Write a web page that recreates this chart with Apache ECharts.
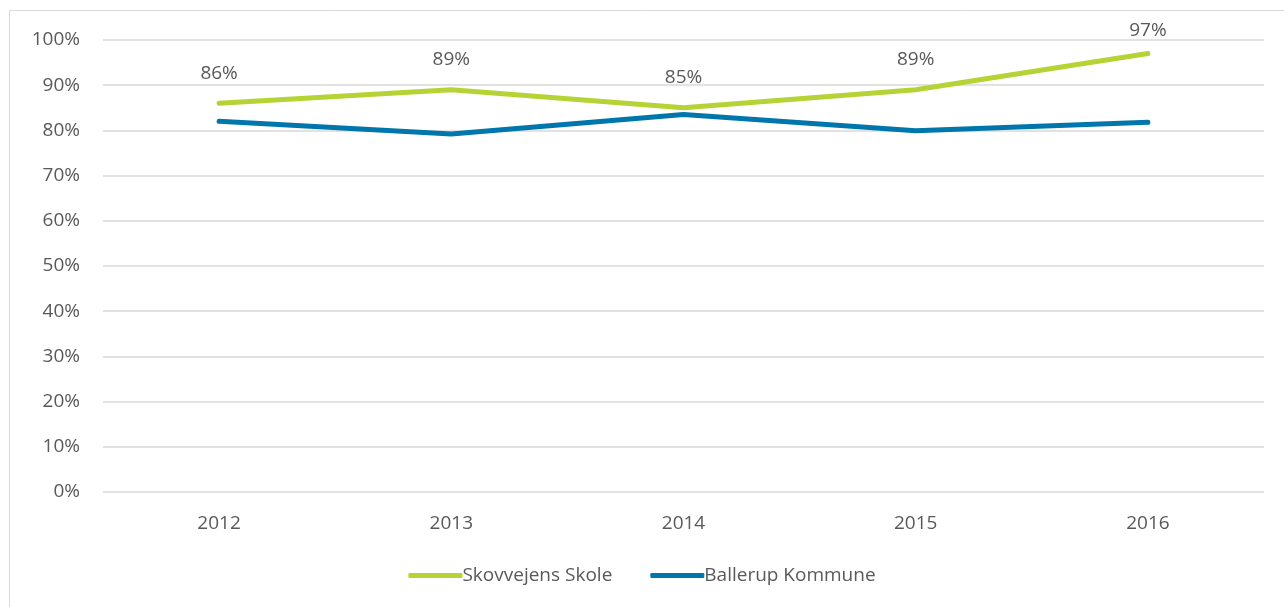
<!DOCTYPE html>
<html>
<head>
<meta charset="utf-8">
<script src="https://cdn.jsdelivr.net/npm/echarts@6/dist/echarts.min.js"></script>
<style>
  html, body { margin: 0; padding: 0; background: #fff; }
  #chart { width: 1284px; height: 607px; }
</style>
</head>
<body>
<div id="chart"></div>
<script>
  var years = ['2012', '2013', '2014', '2015', '2016'];
  var skovvejens = [86, 89, 85, 89, 97];
  var ballerup = [82, 79.2, 83.5, 79.9, 81.8];
  var yTicks = [0, 10, 20, 30, 40, 50, 60, 70, 80, 90, 100];

  var myChart = echarts.init(document.getElementById('chart'));
  var textColor = '#595959';
  var font = 'Open Sans';
  var fs = 19;

  // last label sits a bit closer to the line (near the top of the plot)
  var skovData = skovvejens.map(function (v, i) {
    if (i === skovvejens.length - 1) {
      return {value: v, label: {distance: 13}};
    }
    return v;
  });

  myChart.setOption({
    animation: false,
    graphic: [{
      type: 'rect',
      shape: {x: 9.5, y: 10.5, width: 1300, height: 700},
      style: {fill: 'none', stroke: '#d9d9d9', lineWidth: 1}
    }],
    grid: {left: 103, right: 20, top: 40, bottom: 115, containLabel: false},
    legend: {
      bottom: 17,
      left: 'center',
      itemWidth: 54,
      itemHeight: 5,
      itemGap: 38,
      icon: 'roundRect',
      textStyle: {color: textColor, fontSize: fs, fontFamily: font, padding: [0, 0, 0, -5]},
      data: ['Skovvejens Skole', 'Ballerup Kommune']
    },
    xAxis: {
      type: 'category',
      data: years,
      boundaryGap: true,
      axisLine: {show: false},
      axisTick: {show: false},
      axisLabel: {color: textColor, fontSize: fs, fontFamily: font, margin: 22}
    },
    yAxis: {
      type: 'value',
      min: yTicks[0],
      max: yTicks[yTicks.length - 1],
      interval: 10,
      axisLine: {show: false},
      axisTick: {show: false},
      splitLine: {lineStyle: {color: '#d9d9d9', width: 1.5}},
      axisLabel: {color: textColor, fontSize: fs, fontFamily: font, margin: 23, formatter: '{value}%'}
    },
    series: [
      {
        name: 'Skovvejens Skole',
        type: 'line',
        data: skovData,
        symbol: 'circle',
        symbolSize: 1,
        lineStyle: {color: '#b5d334', width: 5, cap: 'round', join: 'round'},
        itemStyle: {color: '#b5d334'},
        label: {
          show: true,
          position: 'top',
          distance: 20,
          color: textColor,
          fontSize: fs,
          fontFamily: font,
          formatter: '{c}%'
        }
      },
      {
        name: 'Ballerup Kommune',
        type: 'line',
        data: ballerup,
        symbol: 'none',
        lineStyle: {color: '#0077ac', width: 5, cap: 'round', join: 'round'},
        itemStyle: {color: '#0077ac'}
      }
    ]
  });
</script>
</body>
</html>
